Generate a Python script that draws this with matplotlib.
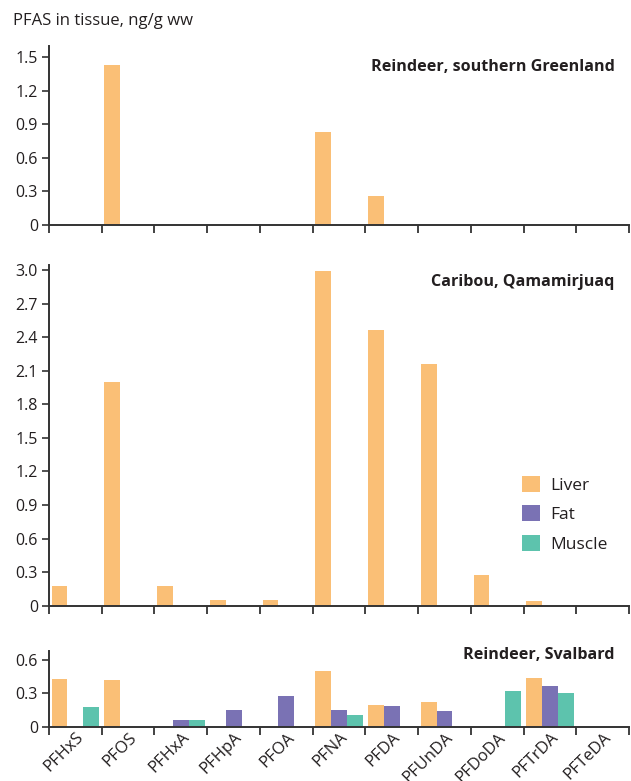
import numpy as np
import matplotlib.pyplot as plt
from matplotlib.patches import Patch

plt.rcParams['font.family'] = ['Open Sans', 'DejaVu Sans']

compounds = ['PFHxS', 'PFOS', 'PFHxA', 'PFHpA', 'PFOA', 'PFNA',
             'PFDA', 'PFUnDA', 'PFDoDA', 'PFTrDA', 'PFTeDA']

# southern Greenland reindeer (liver only)
greenland_liver = [0, 1.43, 0, 0, 0, 0.83, 0.26, 0, 0, 0, 0]

# Qamamirjuaq caribou (liver only)
caribou_liver = [0.18, 2.0, 0.18, 0.05, 0.05, 2.99, 2.46, 2.16, 0.27, 0.04, 0]

# Svalbard reindeer
svalbard_liver = [0.43, 0.42, 0, 0, 0, 0.50, 0.20, 0.22, 0, 0.44, 0]
svalbard_fat = [0, 0, 0.06, 0.15, 0.28, 0.15, 0.19, 0.14, 0, 0.37, 0]
svalbard_muscle = [0.18, 0, 0.06, 0, 0, 0.105, 0, 0, 0.32, 0.30, 0]

tissues = ['Liver', 'Fat', 'Muscle']
colors = {'Liver': '#FABF76', 'Fat': '#7A72B4', 'Muscle': '#5DC3AD'}
ink = '#231F20'

fig = plt.figure(figsize=(6.31, 7.81), dpi=100)
ax_top = fig.add_axes([0.0777, 0.7119, 0.9193, 0.2290])
ax_mid = fig.add_axes([0.0777, 0.2245, 0.9193, 0.4362])
ax_bot = fig.add_axes([0.0777, 0.0695, 0.9193, 0.0973])

x = np.arange(len(compounds))
w = 0.3
offsets = {'Liver': -w, 'Fat': 0.0, 'Muscle': w}

# axes, data, title, title height (axes fraction), y max, ticks, tick labels
panels = [
    (ax_top, {'Liver': greenland_liver}, 'Reindeer, southern Greenland', 0.885,
     1.6, [0, 0.3, 0.6, 0.9, 1.2, 1.5], ['0', '0.3', '0.6', '0.9', '1.2', '1.5']),
    (ax_mid, {'Liver': caribou_liver}, 'Caribou, Qamamirjuaq', 0.95,
     3.045, np.arange(0, 3.01, 0.3), ['0'] + ['%.1f' % v for v in np.arange(0.3, 3.01, 0.3)]),
    (ax_bot, {'Liver': svalbard_liver, 'Fat': svalbard_fat, 'Muscle': svalbard_muscle},
     'Reindeer, Svalbard', 0.95, 0.684, [0, 0.3, 0.6], ['0', '0.3', '0.6']),
]

for ax, series, title, ty, ytop, yticks, ylabels in panels:
    for t, vals in series.items():
        ax.bar(x + offsets[t], vals, width=w, color=colors[t], linewidth=0, zorder=2)
    ax.set_xlim(-0.5, len(compounds) - 0.5)
    ax.set_ylim(0, ytop)
    ax.set_yticks(yticks)
    ax.set_yticklabels(ylabels)
    ax.set_xticks(np.arange(-0.5, len(compounds)), labels=[])
    ax.set_xticks(x, minor=True)
    ax.tick_params(axis='x', which='major', direction='out', length=6, width=1.3, color='#333333')
    ax.tick_params(axis='x', which='minor', length=0)
    ax.tick_params(axis='y', direction='out', length=5, width=1.2, color='#333333',
                   labelsize=11.5, labelcolor=ink, pad=3)
    for s in ['top', 'right']:
        ax.spines[s].set_visible(False)
    for s in ['left', 'bottom']:
        ax.spines[s].set_color('#333333')
        ax.spines[s].set_linewidth(1.4)
    ax.text(0.975, ty, title, transform=ax.transAxes, ha='right', va='center',
            fontsize=11.6, fontweight='bold', color=ink)

ax_bot.set_xticks(x, labels=compounds, minor=True)
ax_bot.tick_params(axis='x', which='minor', labelsize=12, labelcolor=ink, pad=2)
for lbl in ax_bot.get_xticklabels(minor=True):
    lbl.set_rotation(45)
    lbl.set_ha('right')
    lbl.set_rotation_mode('anchor')

handles = [Patch(facecolor=colors[t], edgecolor='none', label=t) for t in tissues]
ax_mid.legend(handles=handles, loc='lower right', bbox_to_anchor=(0.99, 0.11),
              frameon=False, fontsize=12.5, handlelength=1.05, handleheight=1.05,
              handletextpad=0.6, labelspacing=0.65, labelcolor=ink)

fig.text(0.02, 0.968, 'PFAS in tissue, ng/g ww', fontsize=12, color=ink,
         ha='left', va='baseline')

fig.savefig('out.png', dpi=100, facecolor='white')
